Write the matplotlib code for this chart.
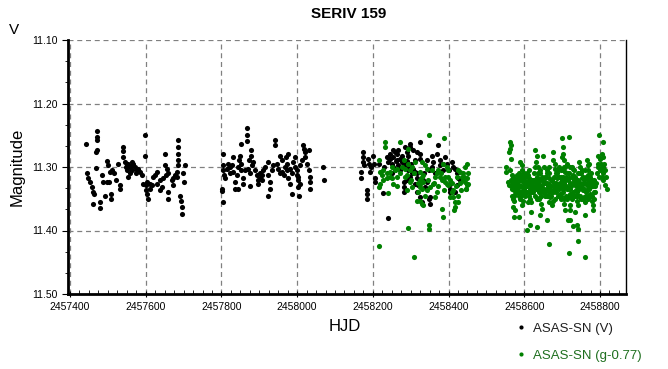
import numpy as np
import matplotlib.pyplot as plt
from matplotlib.ticker import MultipleLocator, AutoMinorLocator, FormatStrFormatter
from matplotlib.lines import Line2D

plt.rcParams['font.family'] = ['Liberation Sans', 'DejaVu Sans']

# --- DATA (HJD - 2450000, magnitude) ---
# ASAS-SN V, three seasons
v_t = [
    7442, 7471, 7471, 7471, 7471, 7469, 7468, 7444, 7448, 7453, 7457, 7460, 7464, 7462,
    7479, 7479, 7484, 7488, 7497, 7504, 7493, 7507, 7507, 7499, 7501, 7506, 7510, 7515,
    7522, 7532, 7532, 7528, 7541, 7541, 7539, 7545, 7550, 7554, 7558, 7563, 7567, 7550,
    7554, 7558, 7572, 7580, 7585, 7589, 7598, 7598, 7594, 7602, 7601, 7604, 7607, 7611,
    7616, 7620, 7624, 7629, 7629, 7638, 7642, 7651, 7651, 7655, 7660, 7660, 7660, 7669,
    7673, 7677, 7682, 7686, 7686, 7684, 7684, 7686, 7691, 7692, 7695, 7695, 7699, 7701,
    7704, 7548, 7563, 7576, 7574, 7566, 7604, 7610, 7638, 7646, 7654, 7682, 7673,
    7803, 7803, 7805, 7807, 7809, 7801, 7801, 7803, 7818, 7823, 7827, 7830, 7831, 7836,
    7840, 7845, 7847, 7849, 7851, 7853, 7858, 7858, 7836, 7845, 7852, 7867, 7867, 7867,
    7877, 7877, 7874, 7871, 7875, 7880, 7884, 7889, 7893, 7897, 7902, 7906, 7897, 7875,
    7911, 7915, 7924, 7924, 7928, 7928, 7924, 7933, 7937, 7941, 7941, 7946, 7950, 7955,
    7959, 7959, 7964, 7968, 7971, 7974, 7977, 7977, 7981, 7986, 7986, 7990, 7994, 7994,
    7999, 8001, 8003, 8003, 8006, 8008, 8012, 8016, 8018, 8021, 8021, 8025, 8030, 8030,
    8034, 8034, 8034, 8069, 8071, 7902, 7906, 7955, 7972, 7981, 7999, 8008, 7862, 7823,
    7814,
    8175, 8175, 8175, 8177, 8170, 8170, 8188, 8191, 8192, 8201, 8203, 8206, 8206, 8184,
    8184, 8184, 8226, 8241, 8237, 8241, 8245, 8250, 8254, 8259, 8263, 8267, 8272, 8276,
    8281, 8254, 8259, 8250, 8267, 8272, 8285, 8289, 8294, 8298, 8298, 8307, 8316, 8324,
    8324, 8289, 8294, 8298, 8303, 8307, 8311, 8316, 8320, 8311, 8281, 8281, 8281, 8289,
    8316, 8324, 8329, 8333, 8338, 8342, 8347, 8351, 8351, 8342, 8355, 8360, 8369, 8373,
    8377, 8377, 8386, 8391, 8395, 8404, 8404, 8408, 8413, 8417, 8421, 8421, 8426, 8404,
    8417, 8347, 8324, 8245, 8263, 8276, 8254, 8311, 8316,
    8195, 8215, 8230, 8262, 8270, 8290, 8300, 8335, 8357, 8365,
    8385, 8400, 8430,
]
v_mag = [
    11.263, 11.243, 11.253, 11.258, 11.274, 11.276, 11.302, 11.310, 11.318, 11.324, 11.331, 11.339, 11.342, 11.358,
    11.355, 11.364, 11.313, 11.324, 11.324, 11.324, 11.345, 11.343, 11.351, 11.290, 11.297, 11.308, 11.305, 11.310,
    11.321, 11.329, 11.334, 11.295, 11.268, 11.275, 11.284, 11.292, 11.297, 11.295, 11.300, 11.292, 11.295, 11.305,
    11.316, 11.310, 11.300, 11.303, 11.308, 11.313, 11.250, 11.282, 11.326, 11.329, 11.337, 11.342, 11.350, 11.334,
    11.329, 11.316, 11.313, 11.308, 11.326, 11.337, 11.331, 11.279, 11.297, 11.303, 11.310, 11.339, 11.350, 11.321,
    11.329, 11.313, 11.308, 11.258, 11.268, 11.279, 11.289, 11.297, 11.345, 11.353, 11.363, 11.374, 11.310, 11.324,
    11.297, 11.300, 11.305, 11.305, 11.310, 11.297, 11.324, 11.326, 11.321, 11.318, 11.313, 11.316, 11.318,
    11.279, 11.297, 11.305, 11.313, 11.318, 11.334, 11.338, 11.355, 11.295, 11.300, 11.297, 11.284, 11.308, 11.324,
    11.313, 11.300, 11.289, 11.282, 11.295, 11.305, 11.318, 11.326, 11.334, 11.334, 11.263, 11.239, 11.250, 11.259,
    11.273, 11.282, 11.289, 11.303, 11.310, 11.297, 11.292, 11.305, 11.313, 11.321, 11.318, 11.313, 11.326, 11.330,
    11.305, 11.300, 11.292, 11.313, 11.324, 11.334, 11.345, 11.305, 11.297, 11.258, 11.266, 11.295, 11.303, 11.282,
    11.289, 11.308, 11.313, 11.300, 11.284, 11.295, 11.279, 11.318, 11.326, 11.310, 11.342, 11.292, 11.284, 11.300,
    11.305, 11.316, 11.321, 11.331, 11.345, 11.297, 11.289, 11.266, 11.271, 11.276, 11.284, 11.295, 11.274, 11.305,
    11.316, 11.324, 11.334, 11.300, 11.321, 11.310, 11.321, 11.310, 11.305, 11.303, 11.313, 11.326, 11.305, 11.310,
    11.303,
    11.276, 11.284, 11.292, 11.297, 11.308, 11.318, 11.287, 11.295, 11.308, 11.282, 11.295, 11.318, 11.324, 11.337,
    11.343, 11.350, 11.341, 11.380, 11.284, 11.292, 11.287, 11.295, 11.274, 11.276, 11.279, 11.274, 11.287, 11.292,
    11.295, 11.300, 11.305, 11.310, 11.297, 11.305, 11.268, 11.276, 11.282, 11.263, 11.268, 11.274, 11.276, 11.260,
    11.279, 11.300, 11.305, 11.316, 11.310, 11.303, 11.308, 11.318, 11.329, 11.326, 11.324, 11.331, 11.339, 11.321,
    11.339, 11.347, 11.355, 11.321, 11.331, 11.324, 11.305, 11.347, 11.358, 11.289, 11.282, 11.292, 11.279, 11.266,
    11.289, 11.297, 11.305, 11.284, 11.295, 11.326, 11.334, 11.292, 11.300, 11.303, 11.310, 11.329, 11.318, 11.339,
    11.339, 11.350, 11.287, 11.279, 11.289, 11.282, 11.284, 11.289, 11.310,
    11.300, 11.295, 11.300, 11.290, 11.300, 11.290, 11.295, 11.310, 11.300, 11.310,
    11.295, 11.305, 11.320,
]

# ASAS-SN g shifted by -0.77, two seasons
g_t = [
    8217, 8309, 8294, 8347, 8347, 8232, 8232, 8272, 8294, 8347, 8388, 8217, 8219, 8223,
    8228, 8219, 8217, 8241, 8237, 8245, 8250, 8263, 8272, 8285, 8289, 8298, 8281, 8294,
    8303, 8311, 8329, 8338, 8342, 8324, 8329, 8333, 8324, 8320, 8324, 8316, 8329, 8333,
    8338, 8342, 8351, 8360, 8364, 8369, 8373, 8377, 8382, 8386, 8395, 8399, 8391, 8395,
    8399, 8404, 8408, 8413, 8417, 8417, 8415, 8413, 8426, 8388, 8386, 8382, 8391, 8404,
    8421, 8426, 8430, 8435, 8439, 8443, 8448, 8452, 8450, 8443, 8439, 8448, 8452, 8446,
    8432, 8426, 8303, 8298, 8289, 8263, 8254, 8245, 8237, 8228, 8324, 8324, 8333, 8364,
    8369,
    8250, 8258, 8265, 8278, 8285, 8300, 8310, 8318, 8330, 8345,
    8355, 8362, 8372, 8380, 8398, 8410, 8420, 8430, 8440, 8445,
    8553, 8553, 8558, 8560, 8562, 8564, 8562, 8560, 8564, 8567, 8571, 8569, 8573, 8575,
    8571, 8573, 8571, 8575, 8573, 8580, 8584, 8587, 8589, 8590, 8593, 8593, 8593, 8596,
    8597, 8599, 8593, 8587, 8597, 8606, 8611, 8613, 8615, 8617, 8619, 8619, 8615, 8608,
    8628, 8633, 8631, 8637, 8637, 8641, 8640, 8641, 8641, 8643, 8646, 8641, 8650, 8633,
    8646, 8655, 8655, 8659, 8661, 8664, 8666, 8664, 8668, 8664, 8672, 8677, 8677, 8677,
    8681, 8681, 8686, 8686, 8690, 8693, 8694, 8696, 8699, 8701, 8703, 8699, 8705, 8708,
    8708, 8703, 8699, 8701, 8705, 8708, 8659, 8666, 8717, 8712, 8716, 8719, 8721, 8721,
    8722, 8725, 8721, 8721, 8721, 8716, 8719, 8730, 8730, 8731, 8734, 8737, 8738, 8740,
    8743, 8734, 8730, 8740, 8743, 8741, 8745, 8747, 8749, 8752, 8754, 8756, 8758, 8760,
    8760, 8765, 8767, 8769, 8769, 8772, 8774, 8774, 8778, 8781, 8782, 8765, 8760, 8798,
    8809, 8796, 8800, 8804, 8809, 8796, 8800, 8809, 8813, 8809, 8804, 8813, 8818, 8809,
    8566, 8568, 8570, 8574, 8576, 8578, 8579, 8582, 8583, 8585, 8586, 8588, 8591, 8592,
    8594, 8595, 8598, 8600, 8602, 8604, 8607, 8609, 8612, 8614, 8616, 8618, 8620, 8622,
    8625, 8627, 8629, 8632, 8634, 8636, 8638, 8642, 8644, 8645, 8648, 8651, 8653, 8656,
    8658, 8660, 8662, 8665, 8667, 8670, 8673, 8675, 8678, 8680, 8683, 8685, 8688, 8691,
    8692, 8695, 8697, 8700, 8702, 8704, 8706, 8709, 8710, 8713, 8715, 8718, 8720, 8723,
    8726, 8728, 8732, 8735, 8736, 8739, 8742, 8744, 8746, 8748, 8750, 8753, 8755, 8757,
    8759, 8762, 8764, 8766, 8768, 8770, 8771, 8773, 8776, 8777, 8779, 8783, 8785, 8786,
    8563, 8565, 8567, 8569, 8572, 8577, 8581, 8584, 8587, 8590,
    8592, 8596, 8599, 8601, 8603, 8605, 8608, 8610, 8613, 8615,
    8617, 8619, 8621, 8624, 8626, 8628, 8630, 8633, 8635, 8637,
    8639, 8641, 8643, 8646, 8649, 8652, 8654, 8657, 8659, 8661,
    8663, 8666, 8668, 8671, 8674, 8676, 8679, 8682, 8684, 8687,
    8689, 8692, 8694, 8696, 8698, 8701, 8703, 8705, 8707, 8711,
    8714, 8717, 8719, 8722, 8724, 8727, 8729, 8731, 8734, 8737,
    8740, 8743, 8745, 8747, 8749, 8751, 8754, 8756, 8758, 8761,
    8763, 8765, 8767, 8770, 8772, 8775, 8778, 8780, 8782, 8784,
    8787, 8790, 8792, 8794, 8797, 8802, 8806, 8811, 8815,
]
g_mag = [
    11.424, 11.442, 11.396, 11.392, 11.397, 11.260, 11.268, 11.260, 11.271, 11.250, 11.254, 11.289, 11.308, 11.313,
    11.321, 11.326, 11.331, 11.341, 11.310, 11.316, 11.318, 11.303, 11.310, 11.303, 11.313, 11.305, 11.289, 11.295,
    11.300, 11.292, 11.292, 11.297, 11.303, 11.308, 11.316, 11.324, 11.331, 11.339, 11.353, 11.353, 11.358, 11.360,
    11.345, 11.337, 11.331, 11.326, 11.316, 11.310, 11.305, 11.316, 11.321, 11.295, 11.300, 11.305, 11.324, 11.326,
    11.329, 11.321, 11.339, 11.347, 11.355, 11.363, 11.367, 11.337, 11.355, 11.337, 11.379, 11.366, 11.316, 11.347,
    11.316, 11.305, 11.308, 11.316, 11.321, 11.324, 11.329, 11.310, 11.295, 11.300, 11.310, 11.318, 11.326, 11.334,
    11.337, 11.345, 11.331, 11.324, 11.337, 11.330, 11.326, 11.308, 11.318, 11.305, 11.326, 11.321, 11.313, 11.347,
    11.339,
    11.300, 11.305, 11.315, 11.300, 11.315, 11.320, 11.310, 11.325, 11.335, 11.320,
    11.305, 11.325, 11.330, 11.310, 11.315, 11.325, 11.330, 11.325, 11.315, 11.335,
    11.300, 11.308, 11.324, 11.329, 11.260, 11.266, 11.271, 11.276, 11.287, 11.313, 11.318, 11.331, 11.337, 11.342,
    11.350, 11.353, 11.363, 11.368, 11.379, 11.313, 11.326, 11.331, 11.339, 11.292, 11.297, 11.305, 11.316, 11.324,
    11.331, 11.342, 11.360, 11.378, 11.353, 11.310, 11.313, 11.318, 11.326, 11.334, 11.339, 11.371, 11.392, 11.399,
    11.274, 11.282, 11.292, 11.300, 11.310, 11.321, 11.331, 11.339, 11.347, 11.358, 11.366, 11.375, 11.282, 11.394,
    11.329, 11.324, 11.316, 11.310, 11.305, 11.318, 11.326, 11.339, 11.347, 11.355, 11.360, 11.353, 11.276, 11.289,
    11.295, 11.303, 11.310, 11.318, 11.326, 11.334, 11.342, 11.350, 11.255, 11.268, 11.279, 11.284, 11.289, 11.300,
    11.308, 11.316, 11.329, 11.339, 11.358, 11.368, 11.383, 11.422, 11.253, 11.295, 11.310, 11.318, 11.326, 11.334,
    11.342, 11.350, 11.360, 11.368, 11.383, 11.384, 11.436, 11.303, 11.313, 11.321, 11.329, 11.337, 11.345, 11.353,
    11.360, 11.371, 11.393, 11.392, 11.397, 11.417, 11.292, 11.300, 11.310, 11.318, 11.326, 11.337, 11.347, 11.376,
    11.441, 11.289, 11.297, 11.305, 11.313, 11.321, 11.331, 11.342, 11.353, 11.360, 11.368, 11.329, 11.355, 11.250,
    11.260, 11.282, 11.287, 11.279, 11.284, 11.300, 11.305, 11.300, 11.305, 11.310, 11.316, 11.329, 11.334, 11.321,
    11.320, 11.335, 11.325, 11.345, 11.330, 11.320, 11.340, 11.335, 11.318, 11.345, 11.310, 11.320, 11.330, 11.345,
    11.338, 11.312, 11.320, 11.335, 11.325, 11.340, 11.330, 11.322, 11.345, 11.335, 11.350, 11.328, 11.320, 11.335,
    11.310, 11.330, 11.345, 11.325, 11.315, 11.335, 11.350, 11.310, 11.330, 11.345, 11.320, 11.335, 11.300, 11.340,
    11.325, 11.345, 11.330, 11.310, 11.335, 11.320, 11.340, 11.330, 11.315, 11.335, 11.325, 11.340, 11.305, 11.315,
    11.345, 11.325, 11.305, 11.320, 11.335, 11.300, 11.325, 11.345, 11.315, 11.335, 11.320, 11.345, 11.300, 11.330,
    11.315, 11.340, 11.305, 11.345, 11.320, 11.330, 11.310, 11.335, 11.325, 11.345, 11.330, 11.305, 11.350, 11.320,
    11.335, 11.315, 11.345, 11.325, 11.335, 11.295, 11.345, 11.315, 11.330, 11.345, 11.320, 11.340, 11.350, 11.330,
    11.305, 11.330, 11.345, 11.315, 11.325, 11.335, 11.325, 11.340, 11.315, 11.350,
    11.320, 11.340, 11.310, 11.345, 11.315, 11.330, 11.340, 11.355, 11.305, 11.340,
    11.320, 11.355, 11.325, 11.340, 11.320, 11.300, 11.335, 11.350, 11.325, 11.320,
    11.340, 11.305, 11.335, 11.315, 11.340, 11.325, 11.345, 11.315, 11.335, 11.325,
    11.345, 11.300, 11.330, 11.345, 11.320, 11.340, 11.325, 11.350, 11.310, 11.330,
    11.345, 11.300, 11.330, 11.315, 11.345, 11.305, 11.330, 11.350, 11.320, 11.330,
    11.350, 11.310, 11.335, 11.325, 11.345, 11.300, 11.325, 11.345, 11.315, 11.325,
    11.340, 11.320, 11.345, 11.310, 11.330, 11.350, 11.315, 11.335, 11.325, 11.305,
    11.340, 11.315, 11.350, 11.325, 11.335, 11.310, 11.325, 11.345, 11.330, 11.320,
    11.340, 11.325, 11.310, 11.295, 11.315, 11.295, 11.305, 11.295, 11.315,
]

HJD0 = 2450000
x_ticks = np.arange(2457400, 2458801, 200)
y_ticks = [11.10, 11.20, 11.30, 11.40, 11.50]

# --- FIGURE ---
fig = plt.figure(figsize=(6.68, 3.69), dpi=100)
ax = fig.add_axes([68 / 668, 75 / 369, 558 / 668, 254 / 369])

ax.plot(HJD0 + np.array(v_t), v_mag, 'o', color='black', ms=3.7, mew=0, label='ASAS-SN (V)')
ax.plot(HJD0 + np.array(g_t), g_mag, 'o', color='#008000', ms=3.7, mew=0, label='ASAS-SN (g-0.77)')

ax.set_xlim(2457394.7, 2458868.7)
ax.set_ylim(11.50, 11.10)
ax.set_xticks(x_ticks)
ax.set_yticks(y_ticks)
ax.xaxis.set_major_formatter(FormatStrFormatter('%d'))
ax.yaxis.set_major_formatter(FormatStrFormatter('%.2f'))
ax.xaxis.set_minor_locator(MultipleLocator(25))
ax.yaxis.set_minor_locator(AutoMinorLocator(3))
ax.tick_params(labelsize=7.5, colors='black')
ax.tick_params(axis='x', which='major', direction='inout', length=5)
ax.tick_params(axis='x', which='minor', direction='in', length=3)
ax.tick_params(axis='y', which='major', direction='out', length=4)
ax.tick_params(axis='y', which='minor', direction='out', length=2)

ax.grid(True, which='major', color='#808080', linestyle=(0, (4, 3)), linewidth=0.9)
ax.set_axisbelow(True)

ax.spines['top'].set_visible(False)
ax.spines['left'].set_linewidth(2)
ax.spines['bottom'].set_linewidth(2)
ax.spines['right'].set_linewidth(1)

ax.set_xlabel('HJD', fontsize=12)
ax.xaxis.set_label_coords(0.496, -0.10)
ax.set_ylabel('Magnitude', fontsize=12)
ax.yaxis.set_label_coords(-0.078, 0.5)

fig.text(349 / 668, 1 - 14 / 369, 'SERIV 159', ha='center', va='center',
         fontsize=11, fontweight='bold')
fig.text(14 / 668, 1 - 30 / 369, 'V', ha='center', va='center', fontsize=11)

handles = [Line2D([], [], ls='none', marker='o', ms=3, mew=0, color='black'),
           Line2D([], [], ls='none', marker='o', ms=3, mew=0, color='#008000')]
fig.legend(handles, ['ASAS-SN (V)', 'ASAS-SN (g-0.77)'], loc='upper left',
           bbox_to_anchor=(509 / 668, 1 - 316 / 369), frameon=False,
           fontsize=9.5, handlelength=0.8, handletextpad=0.5, labelspacing=1.1,
           borderpad=0, labelcolor=['#202020', '#1f6f1f'])

fig.savefig('out.png', dpi=100)
